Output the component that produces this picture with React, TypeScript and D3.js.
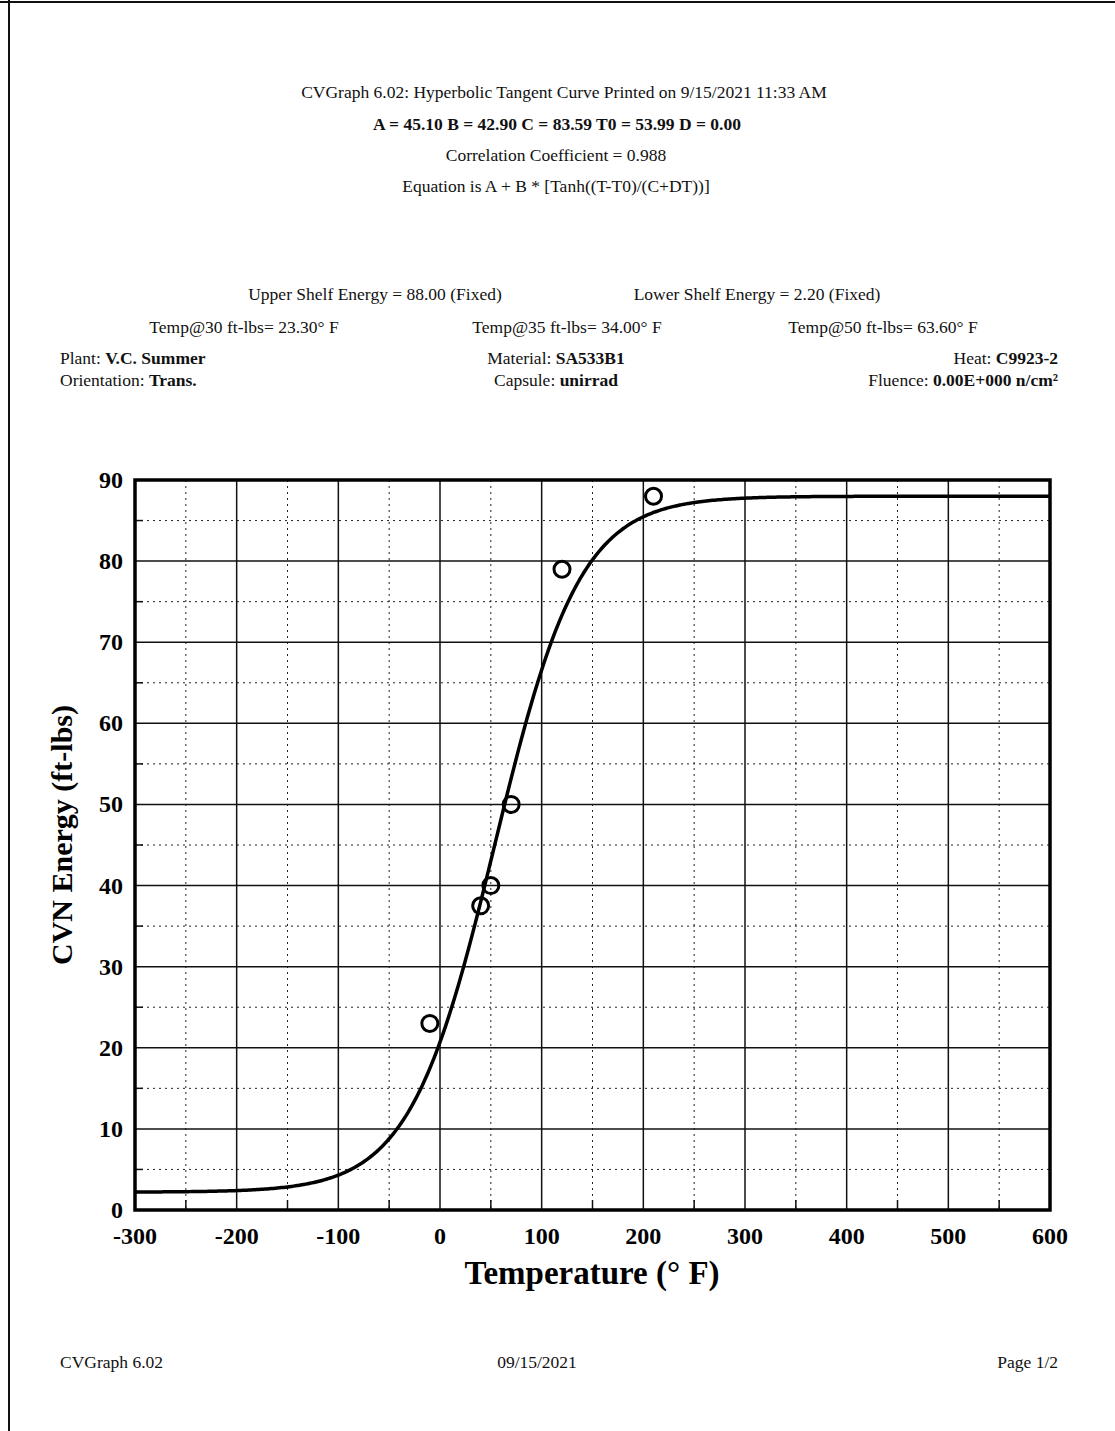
import { useRef, useEffect } from "react";
import * as d3 from "d3";

// measured Charpy points (temperature °F, energy ft-lbs)
const tempF = [-10, 40, 50, 70, 120, 210];
const energy = [23, 37.5, 40, 50, 79, 88];

// fitted tanh parameters printed on the sheet
const A = 45.1;
const B = 42.9;
const C = 83.59;
const T0 = 53.99;

const xTicks = [-300, -200, -100, 0, 100, 200, 300, 400, 500, 600];
const yTicks = [0, 10, 20, 30, 40, 50, 60, 70, 80, 90];

export default function App() {
  const svgRef = useRef<SVGSVGElement>(null);

  useEffect(() => {
    const w = 1115;
    const h = 1431;
    const svg = d3.select(svgRef.current).attr("width", w).attr("height", h);
    svg.selectAll("*").remove();
    const font = "'Liberation Serif', 'Times New Roman', serif";
    svg.style("font-family", font).style("background", "#fff");

    // page edges
    svg.append("line").attr("x1", 0).attr("x2", w).attr("y1", 2).attr("y2", 2)
      .attr("stroke", "#111").attr("stroke-width", 2);
    svg.append("line").attr("x1", 9).attr("x2", 9).attr("y1", 0).attr("y2", h)
      .attr("stroke", "#111").attr("stroke-width", 2);

    // header text
    const txt = (x, y, s, anchor = "middle", size = 17.5, weight = "normal") =>
      svg.append("text").attr("x", x).attr("y", y).attr("text-anchor", anchor)
        .attr("font-size", size).attr("font-weight", weight).attr("fill", "#111").text(s);

    txt(564, 98, "CVGraph 6.02: Hyperbolic Tangent Curve Printed on 9/15/2021 11:33 AM");
    txt(557, 130, `A = ${A.toFixed(2)} B = ${B.toFixed(2)} C = ${C.toFixed(2)} T0 = ${T0.toFixed(2)} D = 0.00`, "middle", 17.5, "bold");
    txt(556, 161, "Correlation Coefficient = 0.988");
    txt(556, 192, "Equation is A + B * [Tanh((T-T0)/(C+DT))]");

    txt(375, 300, "Upper Shelf Energy = 88.00 (Fixed)");
    txt(757, 300, "Lower Shelf Energy = 2.20 (Fixed)");
    txt(244, 333, "Temp@30 ft-lbs= 23.30° F");
    txt(567, 333, "Temp@35 ft-lbs= 34.00° F");
    txt(883, 333, "Temp@50 ft-lbs= 63.60° F");

    const mixed = (x, y, label, value, anchor) => {
      const t = txt(x, y, "", anchor);
      t.append("tspan").text(label);
      t.append("tspan").attr("font-weight", "bold").text(value);
    };
    mixed(60, 364, "Plant: ", "V.C. Summer", "start");
    mixed(60, 386, "Orientation: ", "Trans.", "start");
    mixed(556, 364, "Material: ", "SA533B1", "middle");
    mixed(556, 386, "Capsule: ", "unirrad", "middle");
    mixed(1058, 364, "Heat: ", "C9923-2", "end");
    mixed(1058, 386, "Fluence: ", "0.00E+000 n/cm²", "end");

    // plot
    const left = 135, right = 1050, top = 480, bottom = 1210;
    const x = d3.scaleLinear().domain([-300, 600]).range([left, right]);
    const y = d3.scaleLinear().domain([0, 90]).range([bottom, top]);
    const g = svg.append("g");

    // minor dotted grid
    const minorX = d3.range(-250, 600, 100);
    const minorY = d3.range(5, 90, 10);
    g.selectAll(".mx").data(minorX).join("line")
      .attr("x1", (d) => x(d)).attr("x2", (d) => x(d)).attr("y1", top).attr("y2", bottom)
      .attr("stroke", "#222").attr("stroke-width", 1).attr("stroke-dasharray", "2,4");
    g.selectAll(".my").data(minorY).join("line")
      .attr("x1", left).attr("x2", right).attr("y1", (d) => y(d)).attr("y2", (d) => y(d))
      .attr("stroke", "#222").attr("stroke-width", 1).attr("stroke-dasharray", "2,4");
    // small ticks at minors along edges
    g.selectAll(".mty").data(minorY).join("line")
      .attr("x1", left).attr("x2", left + 8).attr("y1", (d) => y(d)).attr("y2", (d) => y(d))
      .attr("stroke", "#111").attr("stroke-width", 1.5);
    g.selectAll(".mtx").data(minorX).join("line")
      .attr("x1", (d) => x(d)).attr("x2", (d) => x(d)).attr("y1", bottom).attr("y2", bottom - 10)
      .attr("stroke", "#111").attr("stroke-width", 1.5);

    // major solid grid
    g.selectAll(".gx").data(xTicks).join("line")
      .attr("x1", (d) => x(d)).attr("x2", (d) => x(d)).attr("y1", top).attr("y2", bottom)
      .attr("stroke", "#111").attr("stroke-width", 1.5);
    g.selectAll(".gy").data(yTicks).join("line")
      .attr("x1", left).attr("x2", right).attr("y1", (d) => y(d)).attr("y2", (d) => y(d))
      .attr("stroke", "#111").attr("stroke-width", 1.5);

    // frame
    g.append("rect").attr("x", left).attr("y", top).attr("width", right - left)
      .attr("height", bottom - top).attr("fill", "none").attr("stroke", "#000").attr("stroke-width", 3.5);

    // tick labels
    g.selectAll(".xl").data(xTicks).join("text")
      .attr("x", (d) => x(d)).attr("y", bottom + 34).attr("text-anchor", "middle")
      .attr("font-size", 24).attr("font-weight", "bold").attr("fill", "#000").text((d) => d);
    g.selectAll(".yl").data(yTicks).join("text")
      .attr("x", left - 12).attr("y", (d) => y(d) + 8).attr("text-anchor", "end")
      .attr("font-size", 24).attr("font-weight", "bold").attr("fill", "#000").text((d) => d);

    // axis titles
    svg.append("text").attr("x", 592).attr("y", 1284).attr("text-anchor", "middle")
      .attr("font-size", 33).attr("font-weight", "bold").attr("fill", "#000").text("Temperature (° F)");
    svg.append("text").attr("transform", `translate(72, 835) rotate(-90)`)
      .attr("text-anchor", "middle").attr("font-size", 30).attr("font-weight", "bold")
      .attr("fill", "#000").text("CVN Energy (ft-lbs)");

    // fitted curve
    const curveT = d3.range(-300, 601, 2);
    const line = d3.line<number>().x((t) => x(t)).y((t) => y(A + B * Math.tanh((t - T0) / C)));
    g.append("path").datum(curveT).attr("d", line).attr("fill", "none")
      .attr("stroke", "#000").attr("stroke-width", 3.5);

    // data points
    g.selectAll(".pt").data(tempF).join("circle")
      .attr("cx", (d) => x(d)).attr("cy", (d, i) => y(energy[i])).attr("r", 8)
      .attr("fill", "none").attr("stroke", "#000").attr("stroke-width", 3);

    // footer
    txt(60, 1368, "CVGraph 6.02", "start");
    txt(537, 1368, "09/15/2021");
    txt(1058, 1368, "Page 1/2", "end");
  }, []);

  return (
    <div style={{ position: "absolute", top: 0, left: 0 }}>
      <svg ref={svgRef}></svg>
    </div>
  );
}
